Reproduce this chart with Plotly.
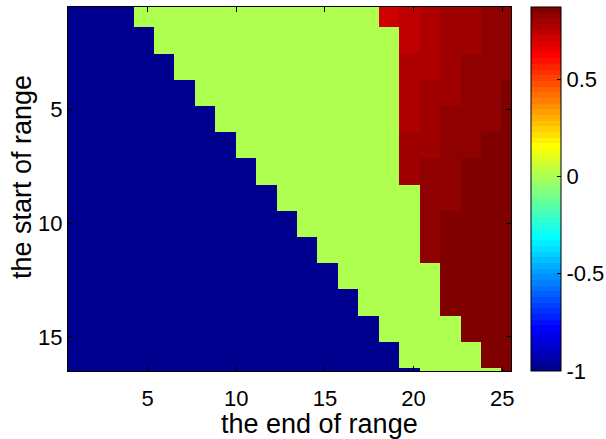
import plotly.graph_objects as go

# cell centres (data units) of the rendered grid
x_centers = [0.164, 1.316, 2.468, 3.620, 4.772, 5.924, 7.076, 8.228, 9.380, 10.532,
             11.684, 12.836, 13.988, 15.140, 16.292, 17.444, 18.596, 19.748, 20.900,
             22.052, 23.204, 24.356, 25.508]
y_centers = [0.818, 1.970, 3.122, 4.274, 5.426, 6.578, 7.730, 8.882, 10.034, 11.186,
             12.338, 13.490, 14.642, 15.794, 16.946]

B = -1.0
G = 0.0
z_values = [
    [B]*4 + [G]*12 + [0.71, 0.74, 0.77, 0.80, 0.80, 0.83, 0.83],
    [B]*5 + [G]*12 + [0.74, 0.77, 0.80, 0.80, 0.83, 0.83],
    [B]*6 + [G]*11 + [0.77, 0.77, 0.80, 0.83, 0.83, 0.83],
    [B]*7 + [G]*10 + [0.77, 0.80, 0.80, 0.83, 0.83, 0.86],
    [B]*8 + [G]*9 + [0.77, 0.80, 0.83, 0.83, 0.83, 0.86],
    [B]*9 + [G]*8 + [0.80, 0.80, 0.83, 0.83, 0.86, 0.86],
    [B]*10 + [G]*7 + [0.80, 0.83, 0.83, 0.86, 0.86, 0.86],
    [B]*11 + [G]*7 + [0.83, 0.83, 0.86, 0.86, 0.86],
    [B]*12 + [G]*6 + [0.83, 0.86, 0.86, 0.86, 0.86],
    [B]*13 + [G]*5 + [0.83, 0.86, 0.86, 0.86, 0.86],
    [B]*14 + [G]*5 + [0.86, 0.86, 0.86, 0.86],
    [B]*15 + [G]*4 + [0.86, 0.86, 0.86, 0.86],
    [B]*16 + [G]*4 + [0.86, 0.86, 0.86],
    [B]*17 + [G]*4 + [0.86, 0.86],
    [B]*18 + [G]*4 + [0.86],
]

x_ticks = [5, 10, 15, 20, 25]
y_ticks = [5, 10, 15]
cb_ticks = [-1, -0.5, 0, 0.5]
cb_labels = ["-1", "-0.5", "0", "0.5"]
x_title = "the end of range"
y_title = "the start of range"
zmin, zmax = -1.0, 0.872


def jet64():
    u = [k / 16 for k in range(1, 17)] + [1.0] * 15 + [(48 - k) / 16 for k in range(32, 48)]
    cols = []
    for i in range(1, 65):
        r = u[i - 25] if 25 <= i <= 71 else 0.0
        g = u[i - 9] if 9 <= i <= 55 else 0.0
        b = u[i + 7] if i <= 39 else 0.0
        cols.append("rgb(%d,%d,%d)" % (round(r * 255), round(g * 255), round(b * 255)))
    scale = []
    for i, c in enumerate(cols):
        scale.append([i / 64, c])
        scale.append([(i + 1) / 64, c])
    return scale


FONT = "Liberation Sans, Arial, Helvetica, sans-serif"

fig = go.Figure(go.Heatmap(
    x=x_centers, y=y_centers, z=z_values,
    zmin=zmin, zmax=zmax, colorscale=jet64(),
    colorbar=dict(
        thickness=30, thicknessmode="pixels", len=1.0, lenmode="fraction",
        x=1.045, xanchor="left", xpad=0, y=0.5, yanchor="middle", ypad=0,
        outlinewidth=1, outlinecolor="black",
        ticks="inside", ticklen=4, tickcolor="black",
        tickvals=cb_ticks, ticktext=cb_labels,
        tickfont=dict(family=FONT, size=22, color="black"),
    ),
))

axis_common = dict(
    showgrid=False, zeroline=False, showline=True, linecolor="black", linewidth=1,
    mirror="allticks", ticks="inside", ticklen=5, tickcolor="black",
    tickfont=dict(family=FONT, size=22, color="black"),
)

fig.update_layout(
    width=606, height=439,
    margin=dict(l=68, r=95, t=7, b=68, autoexpand=False),
    paper_bgcolor="white", plot_bgcolor="white",
    xaxis=dict(range=[0.5, 25.5], tickvals=x_ticks, ticklabelstandoff=8, **axis_common),
    yaxis=dict(range=[16.5, 0.5], tickvals=y_ticks, **axis_common),
    annotations=[
        dict(text=x_title, xref="paper", yref="paper", x=0.5688, y=-0.1456,
             xanchor="center", yanchor="middle", showarrow=False,
             font=dict(family=FONT, size=27, color="black")),
        dict(text=y_title, xref="paper", yref="paper", x=-0.105, y=0.5343,
             xanchor="center", yanchor="middle", showarrow=False, textangle=-90,
             font=dict(family=FONT, size=27, color="black")),
    ],
)

fig.write_html("out.html")
